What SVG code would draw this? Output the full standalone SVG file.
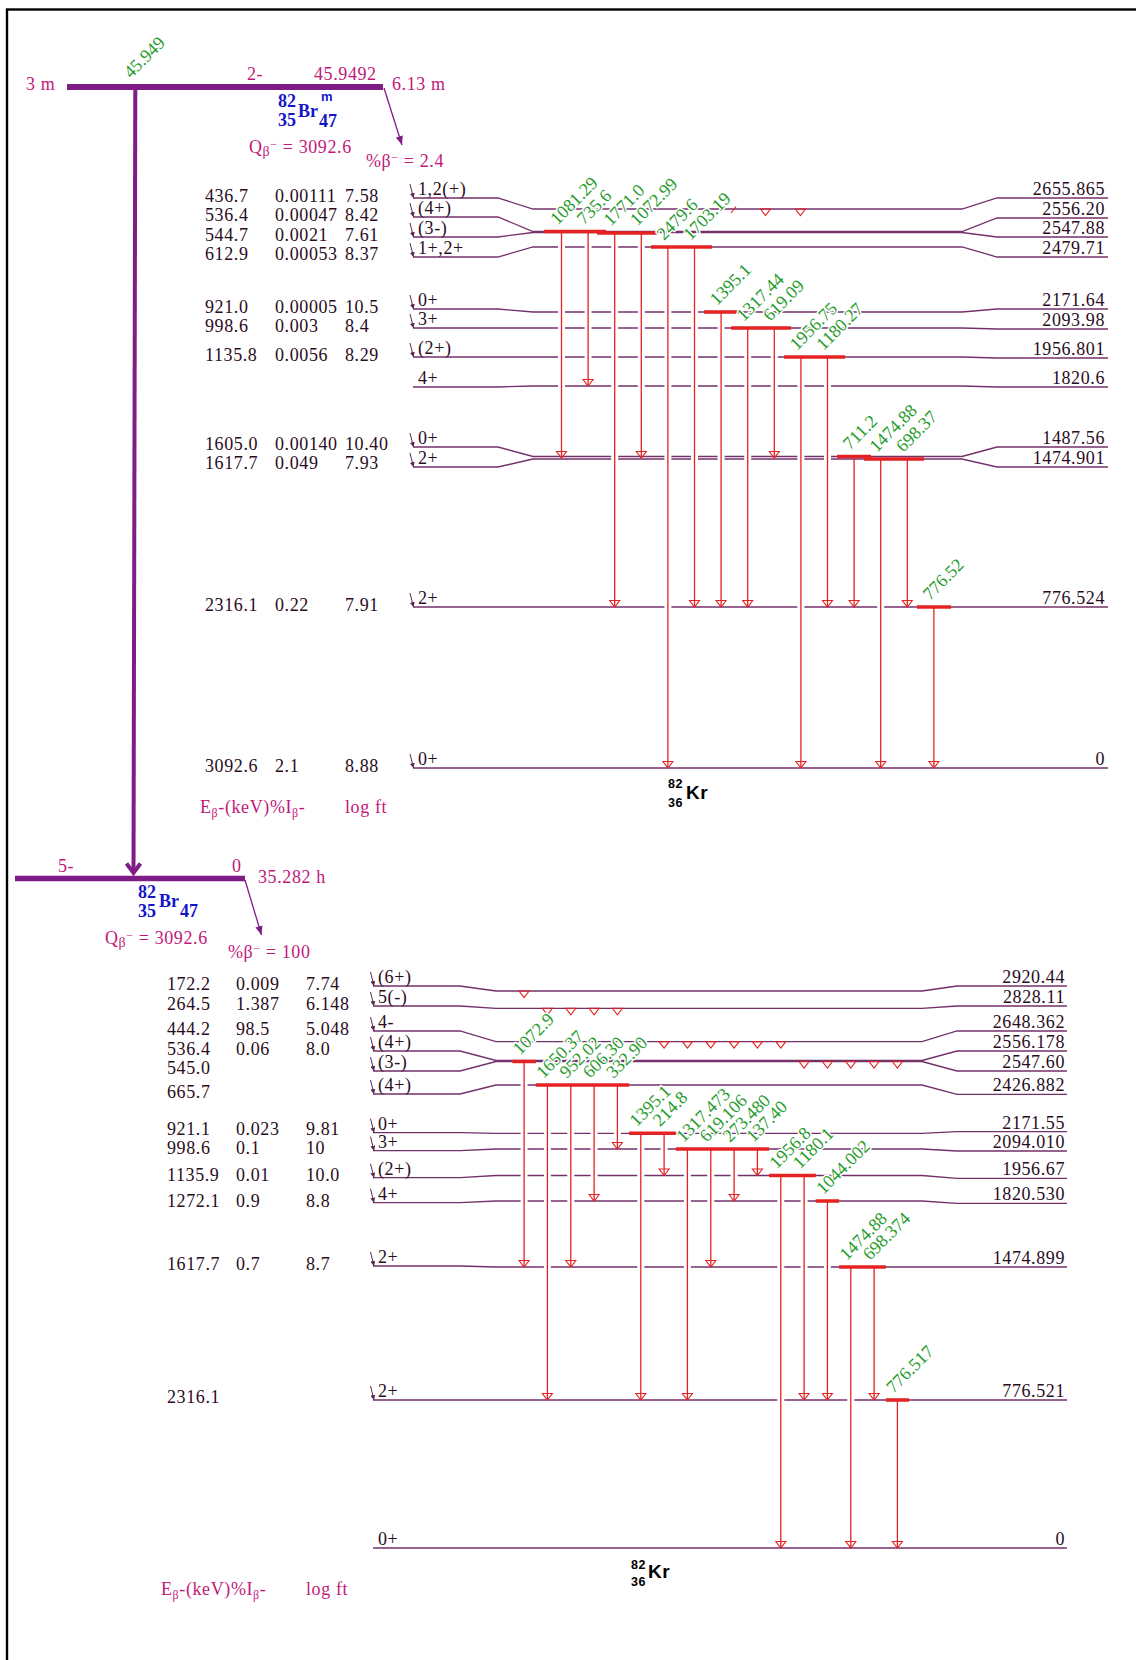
<svg xmlns="http://www.w3.org/2000/svg" xmlns:xlink="http://www.w3.org/1999/xlink" width="1136" height="1660" viewBox="0 0 1136 1660">
<defs>
<style>
.t{font-family:"Liberation Serif","Times New Roman",serif;font-size:18px;letter-spacing:0.6px;fill:#2a0c22}
.m{fill:#c2187a}
.e{text-anchor:end}
.g{font-family:"Liberation Serif","Times New Roman",serif;font-size:18px;fill:#1f9b2a;stroke:#fff;stroke-width:3px;paint-order:stroke;stroke-linejoin:round}
.nb{font-family:"Liberation Serif","Times New Roman",serif;font-weight:bold;font-size:18px;fill:#1515c8}
.kr{font-family:"Liberation Sans",Arial,sans-serif;font-weight:bold;fill:#000}
.lv{fill:none;stroke:#74306a;stroke-width:1.3}
.gs{stroke:#fff;stroke-width:7}
.gm{stroke:#e42222;stroke-width:1.3}
.bar{stroke:#e42222;stroke-width:3.5}
.fd{stroke:#5a2a50;stroke-width:1;marker-end:url(#ba)}
</style>
<marker id="ba" viewBox="0 0 6 6" refX="6" refY="3" markerWidth="5" markerHeight="5" markerUnits="userSpaceOnUse" orient="auto"><path d="M0,0L6,3L0,6z" fill="#5a2a50"/></marker>
<marker id="pa" viewBox="0 0 10 10" refX="10" refY="5" markerWidth="9" markerHeight="9" markerUnits="userSpaceOnUse" orient="auto"><path d="M0,1L10,5L0,9z" fill="#7f1d86"/></marker>
<path id="ah" d="M-5,-6.5L5,-6.5L0,0Z" fill="none" stroke="#e42222" stroke-width="1.1"/>
</defs>
<rect width="1136" height="1660" fill="#fff"/>
<rect x="7" y="9.5" width="1200" height="1700" fill="none" stroke="#000" stroke-width="2.4"/>

<!-- parent 82Br m -->
<g id="parent-82Brm">
<line x1="67" y1="87" x2="383" y2="87" stroke="#7f1d86" stroke-width="6"/>
<text class="t m" x="26" y="90">3 m</text>
<text class="t m" x="247" y="80">2-</text>
<text class="t m" x="314" y="80">45.9492</text>
<text class="t m" x="392" y="90">6.13 m</text>
<text class="nb" x="278" y="107">82</text><text class="nb" x="278" y="126">35</text><text class="nb" x="298" y="117">Br</text><text class="nb" x="319" y="127">47</text>
<text x="321" y="101" font-family="Liberation Sans,Arial,sans-serif" font-weight="bold" font-size="13" fill="#1515c8">m</text>
<text class="t m" x="249" y="153">Q<tspan font-size="14" dy="3">β</tspan><tspan font-size="12" dy="-8">−</tspan><tspan dy="5"> = 3092.6</tspan></text>
<text class="t m" x="366" y="167">%β<tspan font-size="12" dy="-6">−</tspan><tspan dy="6"> = 2.4</tspan></text>
</g>

<!-- parent 82Br g.s. -->
<g id="parent-82Br">
<line x1="15" y1="878.5" x2="245" y2="878.5" stroke="#7f1d86" stroke-width="5.7"/>
<text class="t m" x="58" y="872">5-</text>
<text class="t m" x="232" y="872">0</text>
<text class="t m" x="258" y="883">35.282 h</text>
<text class="nb" x="138" y="898">82</text><text class="nb" x="138" y="917">35</text><text class="nb" x="159" y="907">Br</text><text class="nb" x="180" y="917">47</text>
<text class="t m" x="105" y="944">Q<tspan font-size="14" dy="3">β</tspan><tspan font-size="12" dy="-8">−</tspan><tspan dy="5"> = 3092.6</tspan></text>
<text class="t m" x="228" y="958">%β<tspan font-size="12" dy="-6">−</tspan><tspan dy="6"> = 100</tspan></text>
</g>

<!-- IT / decay arrows -->
<g id="decay-connectors">
<line x1="135.3" y1="87" x2="133.5" y2="872" stroke="#7f1d86" stroke-width="4"/>
<polyline points="126.5,863.5 133.5,873 140.5,863.5" fill="none" stroke="#7f1d86" stroke-width="4"/>
<text x="131" y="79" transform="rotate(-45 131 79)" font-family="Liberation Serif,serif" font-size="18" fill="#1f9b2a">45.949</text>
<line x1="384" y1="88" x2="402" y2="145" stroke="#7f1d86" stroke-width="1.3" marker-end="url(#pa)"/>
<line x1="245" y1="880" x2="261.5" y2="935" stroke="#7f1d86" stroke-width="1.3" marker-end="url(#pa)"/>
</g>

<!-- upper beta table -->
<g id="upper-table" class="t">
<text x="205" y="202">436.7</text><text x="275" y="202">0.00111</text><text x="345" y="202">7.58</text>
<text x="205" y="221">536.4</text><text x="275" y="221">0.00047</text><text x="345" y="221">8.42</text>
<text x="205" y="241">544.7</text><text x="275" y="241">0.0021</text><text x="345" y="241">7.61</text>
<text x="205" y="260">612.9</text><text x="275" y="260">0.00053</text><text x="345" y="260">8.37</text>
<text x="205" y="313">921.0</text><text x="275" y="313">0.00005</text><text x="345" y="313">10.5</text>
<text x="205" y="332">998.6</text><text x="275" y="332">0.003</text><text x="345" y="332">8.4</text>
<text x="205" y="361">1135.8</text><text x="275" y="361">0.0056</text><text x="345" y="361">8.29</text>
<text x="205" y="450">1605.0</text><text x="275" y="450">0.00140</text><text x="345" y="450">10.40</text>
<text x="205" y="469">1617.7</text><text x="275" y="469">0.049</text><text x="345" y="469">7.93</text>
<text x="205" y="611">2316.1</text><text x="275" y="611">0.22</text><text x="345" y="611">7.91</text>
<text x="205" y="772">3092.6</text><text x="275" y="772">2.1</text><text x="345" y="772">8.88</text>
<text class="t m" x="200" y="813">E<tspan font-size="12" dy="4">β</tspan><tspan dy="-4">-(keV)%I</tspan><tspan font-size="12" dy="4">β</tspan><tspan dy="-4">-</tspan></text>
<text class="t m" x="345" y="813">log ft</text>
</g>

<!-- lower beta table -->
<g id="lower-table" class="t">
<text x="167" y="990">172.2</text><text x="236" y="990">0.009</text><text x="306" y="990">7.74</text>
<text x="167" y="1010">264.5</text><text x="236" y="1010">1.387</text><text x="306" y="1010">6.148</text>
<text x="167" y="1035">444.2</text><text x="236" y="1035">98.5</text><text x="306" y="1035">5.048</text>
<text x="167" y="1055">536.4</text><text x="236" y="1055">0.06</text><text x="306" y="1055">8.0</text>
<text x="167" y="1074">545.0</text>
<text x="167" y="1098">665.7</text>
<text x="167" y="1135">921.1</text><text x="236" y="1135">0.023</text><text x="306" y="1135">9.81</text>
<text x="167" y="1154">998.6</text><text x="236" y="1154">0.1</text><text x="306" y="1154">10</text>
<text x="167" y="1181">1135.9</text><text x="236" y="1181">0.01</text><text x="306" y="1181">10.0</text>
<text x="167" y="1207">1272.1</text><text x="236" y="1207">0.9</text><text x="306" y="1207">8.8</text>
<text x="167" y="1270">1617.7</text><text x="236" y="1270">0.7</text><text x="306" y="1270">8.7</text>
<text x="167" y="1403">2316.1</text>
<text class="t m" x="161" y="1595">E<tspan font-size="12" dy="4">β</tspan><tspan dy="-4">-(keV)%I</tspan><tspan font-size="12" dy="4">β</tspan><tspan dy="-4">-</tspan></text>
<text class="t m" x="306" y="1595">log ft</text>
</g>

<!-- upper daughter levels -->
<g id="upper-levels" class="t">
<g id="u2655"><path class="lv" d="M413,198H498L533,209H962L997,198H1108"/><line class="fd" x1="410" y1="184" x2="413.5" y2="198"/><text x="418" y="195">1,2(+)</text><text class="e" x="1105" y="195">2655.865</text></g>
<g id="u2556"><path class="lv" d="M413,217H498L533,231.5H962L997,218H1108"/><line class="fd" x1="410" y1="203" x2="413.5" y2="217"/><text x="418" y="214">(4+)</text><text class="e" x="1105" y="215">2556.20</text></g>
<g id="u2547"><path class="lv" d="M413,237H498L533,232.5H962L997,237H1108"/><line class="fd" x1="410" y1="223" x2="413.5" y2="237"/><text x="418" y="234">(3-)</text><text class="e" x="1105" y="234">2547.88</text></g>
<g id="u2479"><path class="lv" d="M413,257H498L533,247H962L997,257H1108"/><line class="fd" x1="410" y1="243" x2="413.5" y2="257"/><text x="418" y="254">1+,2+</text><text class="e" x="1105" y="254">2479.71</text></g>
<g id="u2171"><path class="lv" d="M413,309H498L533,312H962L997,309H1108"/><line class="fd" x1="410" y1="295" x2="413.5" y2="309"/><text x="418" y="306">0+</text><text class="e" x="1105" y="306">2171.64</text></g>
<g id="u2093"><path class="lv" d="M413,328H498L533,328H962L997,329H1108"/><line class="fd" x1="410" y1="314" x2="413.5" y2="328"/><text x="418" y="325">3+</text><text class="e" x="1105" y="326">2093.98</text></g>
<g id="u1956"><path class="lv" d="M413,357H498L533,357H962L997,358H1108"/><line class="fd" x1="410" y1="343" x2="413.5" y2="357"/><text x="418" y="354">(2+)</text><text class="e" x="1105" y="355">1956.801</text></g>
<g id="u1820"><path class="lv" d="M413,387H498L533,386H962L997,387H1108"/><text x="418" y="384">4+</text><text class="e" x="1105" y="384">1820.6</text></g>
<g id="u1487"><path class="lv" d="M413,447H498L533,456.5H962L997,447H1108"/><line class="fd" x1="410" y1="433" x2="413.5" y2="447"/><text x="418" y="444">0+</text><text class="e" x="1105" y="444">1487.56</text></g>
<g id="u1474"><path class="lv" d="M413,467H498L533,459H962L997,467H1108"/><line class="fd" x1="410" y1="453" x2="413.5" y2="467"/><text x="418" y="464">2+</text><text class="e" x="1105" y="464">1474.901</text></g>
<g id="u776"><path class="lv" d="M413,607H1108"/><line class="fd" x1="410" y1="593" x2="413.5" y2="607"/><text x="418" y="604">2+</text><text class="e" x="1105" y="604">776.524</text></g>
<g id="u0"><path class="lv" d="M413,768H1108"/><line class="fd" x1="410" y1="754" x2="413.5" y2="768"/><text x="418" y="765">0+</text><text class="e" x="1105" y="765">0</text></g>
<g id="kr-upper"><text class="kr" x="668" y="788" font-size="12.5">82</text><text class="kr" x="668" y="806.5" font-size="12.5">36</text><text class="kr" x="686" y="799" font-size="19">Kr</text></g>
</g>

<!-- lower daughter levels -->
<g id="lower-levels" class="t">
<g id="l2920"><path class="lv" d="M373,986H460L496,991H922L957,986H1067"/><line class="fd" x1="370.5" y1="972" x2="374" y2="986"/><text x="378" y="983">(6+)</text><text class="e" x="1065" y="983">2920.44</text></g>
<g id="l2828"><path class="lv" d="M373,1006H460L496,1008.3H922L957,1006H1067"/><line class="fd" x1="370.5" y1="992" x2="374" y2="1006"/><text x="378" y="1003">5(-)</text><text class="e" x="1065" y="1003">2828.11</text></g>
<g id="l2648"><path class="lv" d="M373,1031H460L496,1041.7H922L957,1031H1067"/><line class="fd" x1="370.5" y1="1017" x2="374" y2="1031"/><text x="378" y="1028">4-</text><text class="e" x="1065" y="1028">2648.362</text></g>
<g id="l2556"><path class="lv" d="M373,1051H460L496,1060.5H922L957,1051H1067"/><line class="fd" x1="370.5" y1="1037" x2="374" y2="1051"/><text x="378" y="1048">(4+)</text><text class="e" x="1065" y="1048">2556.178</text></g>
<g id="l2547"><path class="lv" d="M373,1071H460L496,1061.5H922L957,1071H1067"/><line class="fd" x1="370.5" y1="1057" x2="374" y2="1071"/><text x="378" y="1068">(3-)</text><text class="e" x="1065" y="1068">2547.60</text></g>
<g id="l2426"><path class="lv" d="M373,1094H460L496,1085H922L957,1094.3H1067"/><line class="fd" x1="370.5" y1="1080" x2="374" y2="1094"/><text x="378" y="1091">(4+)</text><text class="e" x="1065" y="1091">2426.882</text></g>
<g id="l2171"><path class="lv" d="M373,1132.7H460L496,1133.3H922L957,1131.7H1067"/><line class="fd" x1="370.5" y1="1118.7" x2="374" y2="1132.7"/><text x="378" y="1129.7">0+</text><text class="e" x="1065" y="1129">2171.55</text></g>
<g id="l2094"><path class="lv" d="M373,1150.7H460L496,1149H922L957,1151H1067"/><line class="fd" x1="370.5" y1="1136.7" x2="374" y2="1150.7"/><text x="378" y="1147.7">3+</text><text class="e" x="1065" y="1148">2094.010</text></g>
<g id="l1956"><path class="lv" d="M373,1177.7H460L496,1175.5H922L957,1178.3H1067"/><line class="fd" x1="370.5" y1="1163.7" x2="374" y2="1177.7"/><text x="378" y="1174.7">(2+)</text><text class="e" x="1065" y="1175">1956.67</text></g>
<g id="l1820"><path class="lv" d="M373,1202.7H460L496,1201H922L957,1203.3H1067"/><line class="fd" x1="370.5" y1="1188.7" x2="374" y2="1202.7"/><text x="378" y="1199.7">4+</text><text class="e" x="1065" y="1200">1820.530</text></g>
<g id="l1474"><path class="lv" d="M373,1266H460L496,1267H922L957,1267H1067"/><line class="fd" x1="370.5" y1="1252" x2="374" y2="1266"/><text x="378" y="1263">2+</text><text class="e" x="1065" y="1264">1474.899</text></g>
<g id="l776"><path class="lv" d="M373,1400H1067"/><line class="fd" x1="370.5" y1="1386" x2="374" y2="1400"/><text x="378" y="1397">2+</text><text class="e" x="1065" y="1397">776.521</text></g>
<g id="l0"><path class="lv" d="M373,1548H1067"/><text x="378" y="1545">0+</text><text class="e" x="1065" y="1545">0</text></g>
<g id="kr-lower"><text class="kr" x="631" y="1569" font-size="12.5">82</text><text class="kr" x="631" y="1585.5" font-size="12.5">36</text><text class="kr" x="648" y="1578" font-size="19">Kr</text></g>
</g>

<!-- gamma connectors -->
<g id="connectors">
<g id="halos">
<path class="gs" d="M561.5,236V450M588.1,236V378M614.7,237V599M641.3,237V450M667.9,251V760M694.5,251V599M721.1,316V599M747.7,332V599M774.3,332V450M800.9,361V760M827.5,361V599M854.1,461V599M880.7,463V760M907.3,463V599M933.9,611V760"/>
<path class="gs" d="M524.1,1066V1259M547.4,1089V1392M570.8,1089V1259M594.1,1089V1193M617.4,1089V1141M640.8,1137V1392M664.1,1137V1167M687.4,1153V1392M710.8,1153V1259M734.1,1153V1193M757.4,1153V1167M780.8,1180V1540M804.1,1180V1392M827.4,1205V1392M850.8,1271V1540M874.1,1271V1392M897.4,1404V1540"/>
</g>
<g id="gamma-lines">
<path class="gm" d="M561.5,231.5V458M588.1,231.5V386M614.7,232.5V607M641.3,232.5V458M667.9,247V768M694.5,247V607M721.1,312V607M747.7,328V607M774.3,328V458M800.9,357V768M827.5,357V607M854.1,456.5V607M880.7,459V768M907.3,459V607M933.9,607V768"/>
<path class="gm" d="M524.1,1061.5V1267M547.4,1085V1400M570.8,1085V1267M594.1,1085V1201M617.4,1085V1149M640.8,1133.3V1400M664.1,1133.3V1175.5M687.4,1149V1400M710.8,1149V1267M734.1,1149V1201M757.4,1149V1175.5M780.8,1175.5V1548M804.1,1175.5V1400M827.4,1201V1400M850.8,1267V1548M874.1,1267V1400M897.4,1400V1548"/>
<line x1="731" y1="213" x2="736" y2="206.5" stroke="#e42222" stroke-width="1.1"/>
</g>
<g id="arrowheads">
<use href="#ah" x="561.5" y="458"/><use href="#ah" x="588.1" y="386"/><use href="#ah" x="614.7" y="607"/><use href="#ah" x="641.3" y="458"/><use href="#ah" x="667.9" y="768"/><use href="#ah" x="694.5" y="607"/><use href="#ah" x="721.1" y="607"/><use href="#ah" x="747.7" y="607"/><use href="#ah" x="774.3" y="458"/><use href="#ah" x="800.9" y="768"/><use href="#ah" x="827.5" y="607"/><use href="#ah" x="854.1" y="607"/><use href="#ah" x="880.7" y="768"/><use href="#ah" x="907.3" y="607"/><use href="#ah" x="933.9" y="768"/>
<use href="#ah" x="765.5" y="215.5"/><use href="#ah" x="800.4" y="215.5"/>
<use href="#ah" x="524.1" y="1267"/><use href="#ah" x="547.4" y="1400"/><use href="#ah" x="570.8" y="1267"/><use href="#ah" x="594.1" y="1201"/><use href="#ah" x="617.4" y="1149"/><use href="#ah" x="640.8" y="1400"/><use href="#ah" x="664.1" y="1175.5"/><use href="#ah" x="687.4" y="1400"/><use href="#ah" x="710.8" y="1267"/><use href="#ah" x="734.1" y="1201"/><use href="#ah" x="757.4" y="1175.5"/><use href="#ah" x="780.8" y="1548"/><use href="#ah" x="804.1" y="1400"/><use href="#ah" x="827.4" y="1400"/><use href="#ah" x="850.8" y="1548"/><use href="#ah" x="874.1" y="1400"/><use href="#ah" x="897.4" y="1548"/>
<use href="#ah" x="524.1" y="997.5"/>
<use href="#ah" x="547.4" y="1014.8"/><use href="#ah" x="570.8" y="1014.8"/><use href="#ah" x="594.1" y="1014.8"/><use href="#ah" x="617.4" y="1014.8"/>
<use href="#ah" x="664.1" y="1048.2"/><use href="#ah" x="687.4" y="1048.2"/><use href="#ah" x="710.8" y="1048.2"/><use href="#ah" x="734.1" y="1048.2"/><use href="#ah" x="757.4" y="1048.2"/><use href="#ah" x="780.8" y="1048.2"/>
<use href="#ah" x="804.1" y="1068"/><use href="#ah" x="827.4" y="1068"/><use href="#ah" x="850.8" y="1068"/><use href="#ah" x="874.1" y="1068"/><use href="#ah" x="897.4" y="1068"/>
</g>
</g>

<!-- level bars -->
<g id="bars">
<path class="bar" d="M544,231.5H606M597,233H658M651,247H712M704,312H738M731,328H791M784,357H845M837,456.5H871M864,459H924M917,607H951"/>
<path class="bar" d="M512.4,1061.5H535.8M535.7,1085H629.1M629.1,1133.3H675.8M675.7,1149H769.1M769.1,1175.5H815.8M815.7,1201H839.1M839.1,1267H885.8M885.7,1400H909.1"/>
</g>

<!-- gamma labels -->
<g id="gamma-labels">
<text class="g" x="557.5" y="225.5" transform="rotate(-45 557.5 225.5)">1081.29</text>
<text class="g" x="584.1" y="225.5" transform="rotate(-45 584.1 225.5)">735.6</text>
<text class="g" x="610.7" y="226.5" transform="rotate(-45 610.7 226.5)">1771.0</text>
<text class="g" x="637.3" y="226.5" transform="rotate(-45 637.3 226.5)">1072.99</text>
<text class="g" x="663.9" y="241" transform="rotate(-45 663.9 241)">2479.6</text>
<text class="g" x="690.5" y="241" transform="rotate(-45 690.5 241)">1703.19</text>
<text class="g" x="717.1" y="306" transform="rotate(-45 717.1 306)">1395.1</text>
<text class="g" x="743.7" y="322" transform="rotate(-45 743.7 322)">1317.44</text>
<text class="g" x="770.3" y="322" transform="rotate(-45 770.3 322)">619.09</text>
<text class="g" x="796.9" y="351" transform="rotate(-45 796.9 351)">1956.75</text>
<text class="g" x="823.5" y="351" transform="rotate(-45 823.5 351)">1180.27</text>
<text class="g" x="850.1" y="450.5" transform="rotate(-45 850.1 450.5)">711.2</text>
<text class="g" x="876.7" y="453" transform="rotate(-45 876.7 453)">1474.88</text>
<text class="g" x="903.3" y="453" transform="rotate(-45 903.3 453)">698.37</text>
<text class="g" x="929.9" y="601" transform="rotate(-45 929.9 601)">776.52</text>
<text class="g" x="520.1" y="1055.5" transform="rotate(-45 520.1 1055.5)">1072.9</text>
<text class="g" x="543.4" y="1079" transform="rotate(-45 543.4 1079)">1650.37</text>
<text class="g" x="566.8" y="1079" transform="rotate(-45 566.8 1079)">952.02</text>
<text class="g" x="590.1" y="1079" transform="rotate(-45 590.1 1079)">606.30</text>
<text class="g" x="613.4" y="1079" transform="rotate(-45 613.4 1079)">332.90</text>
<text class="g" x="636.8" y="1127.3" transform="rotate(-45 636.8 1127.3)">1395.1</text>
<text class="g" x="660.1" y="1127.3" transform="rotate(-45 660.1 1127.3)">214.8</text>
<text class="g" x="683.4" y="1143" transform="rotate(-45 683.4 1143)">1317.473</text>
<text class="g" x="706.8" y="1143" transform="rotate(-45 706.8 1143)">619.106</text>
<text class="g" x="730.1" y="1143" transform="rotate(-45 730.1 1143)">273.480</text>
<text class="g" x="753.4" y="1143" transform="rotate(-45 753.4 1143)">137.40</text>
<text class="g" x="776.8" y="1169.5" transform="rotate(-45 776.8 1169.5)">1956.8</text>
<text class="g" x="800.1" y="1169.5" transform="rotate(-45 800.1 1169.5)">1180.1</text>
<text class="g" x="823.4" y="1195" transform="rotate(-45 823.4 1195)">1044.002</text>
<text class="g" x="846.8" y="1261" transform="rotate(-45 846.8 1261)">1474.88</text>
<text class="g" x="870.1" y="1261" transform="rotate(-45 870.1 1261)">698.374</text>
<text class="g" x="893.4" y="1394" transform="rotate(-45 893.4 1394)">776.517</text>
</g>
</svg>
